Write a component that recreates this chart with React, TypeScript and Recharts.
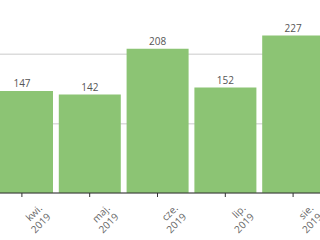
import { BarChart, Bar, XAxis, YAxis, CartesianGrid, LabelList } from 'recharts';

const months = ['kwi.', 'maj.', 'cze.', 'lip.', 'sie.'];
const years = ['2019', '2019', '2019', '2019', '2019'];
const counts = [147, 142, 208, 152, 227];
const yTicks = [0, 100, 200, 300];

const data = months.map((m, i) => ({ name: m, year: years[i], value: counts[i] }));

const FONT = '"Open Sans", sans-serif';

function MonthTick(props: any) {
    const { x, y, index } = props;
    const px = x + 21;
    const py = y + 10;
    return (
        <text
            x={px}
            y={py}
            transform={`rotate(-45, ${px}, ${py})`}
            textAnchor="end"
            fontSize={10}
            fontFamily={FONT}
            fill="#666"
        >
            <tspan x={px}>{months[index]}</tspan>
            <tspan x={px} dy={12}>{years[index]}</tspan>
        </text>
    );
}

export default function App() {
    return (
        <div
            style={{
                position: 'fixed',
                left: 0,
                top: 0,
                width: 320,
                height: 240,
                overflow: 'hidden',
                background: '#fff',
            }}
        >
            <div style={{ position: 'absolute', left: -12, top: -15 }}>
                <BarChart
                    width={339}
                    height={268}
                    data={data}
                    margin={{ top: 0, right: 0, bottom: 0, left: 0 }}
                    barCategoryGap={3}
                >
                    <CartesianGrid vertical={false} stroke="#dcdcdc" strokeWidth={1.5} />
                    <YAxis hide domain={[0, 300]} ticks={yTicks} />
                    <XAxis
                        dataKey="name"
                        height={60}
                        tickSize={4}
                        axisLine={{ stroke: '#333' }}
                        tickLine={{ stroke: '#333' }}
                        tick={<MonthTick />}
                        interval={0}
                    />
                    <Bar dataKey="value" fill="#8cc474" isAnimationActive={false}>
                        <LabelList
                            dataKey="value"
                            position="top"
                            offset={4}
                            fill="#555"
                            fontSize={10}
                            fontFamily={FONT}
                        />
                    </Bar>
                </BarChart>
            </div>
        </div>
    );
}
